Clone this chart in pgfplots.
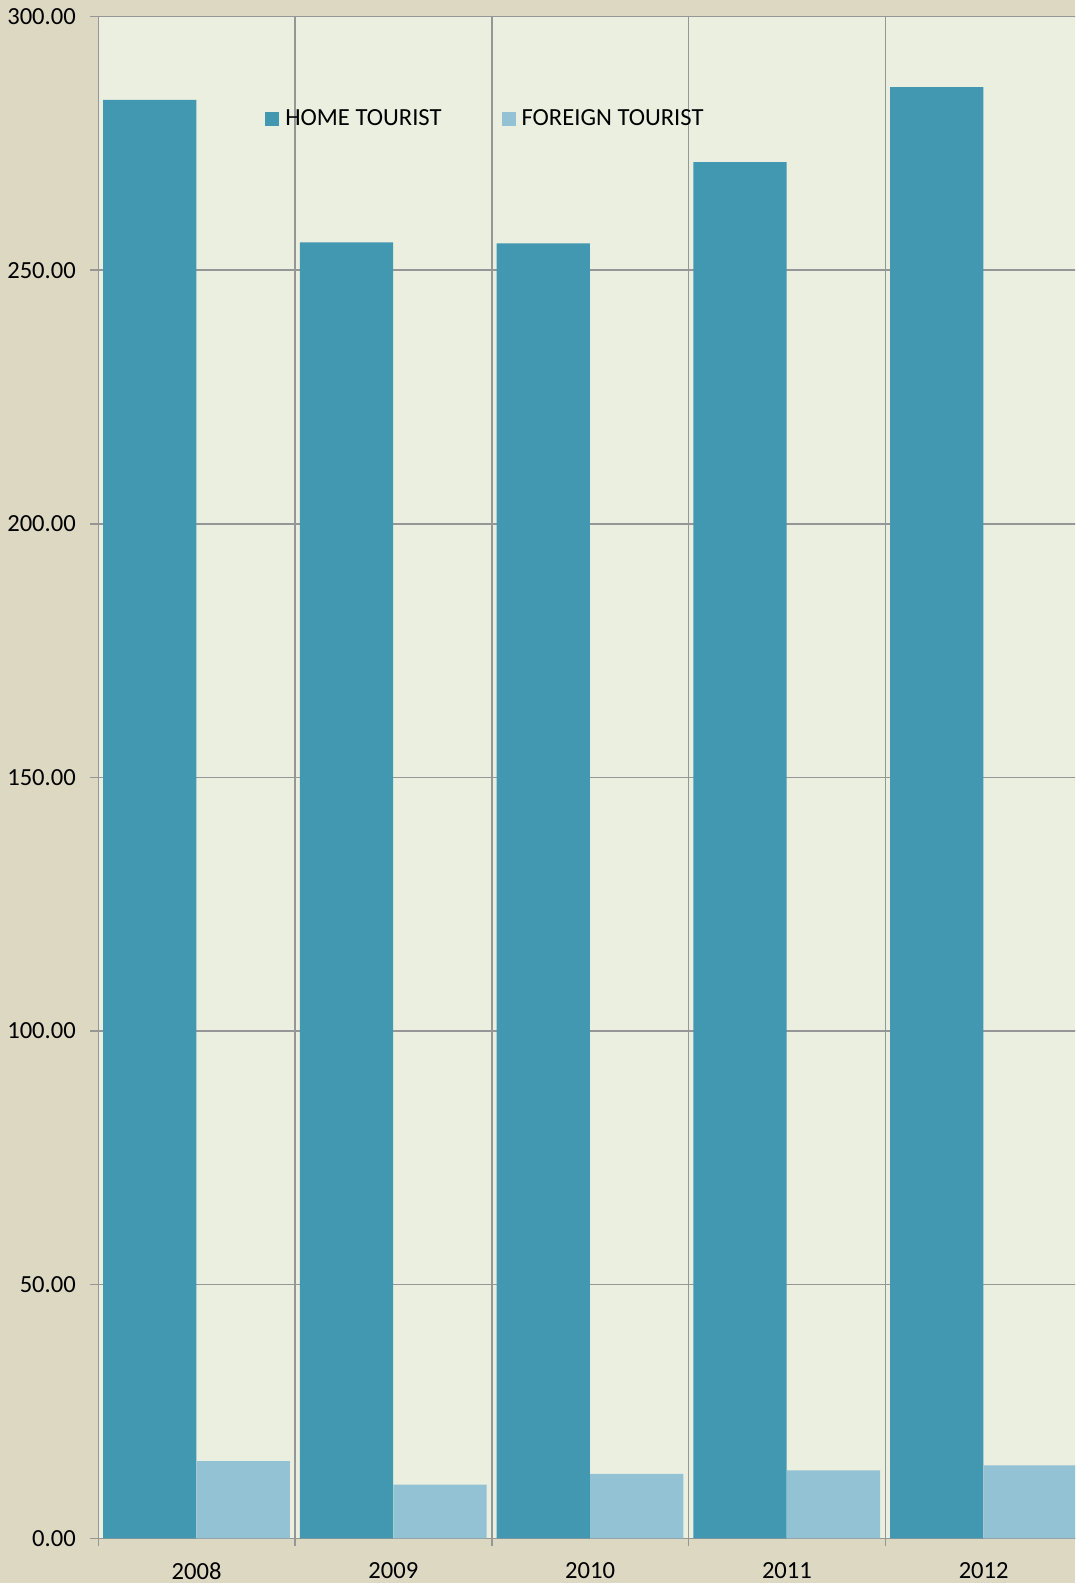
\documentclass[border=0pt]{standalone}
\usepackage{pgfplots}
\pgfplotsset{compat=1.18}
\usepackage{fontspec}
\setmainfont{Carlito}
\definecolor{pagebg}{RGB}{221,216,194}
\definecolor{plotbg}{RGB}{235,239,223}
\definecolor{homec}{RGB}{67,152,177}
\definecolor{forc}{RGB}{146,194,212}
\definecolor{gridc}{RGB}{150,150,150}
\begin{document}
\begin{tikzpicture}
\path[use as bounding box, fill=pagebg] (0pt,0pt) rectangle (537.5pt,791.5pt);
\clip (0pt,0pt) rectangle (537.5pt,791.5pt);
\begin{axis}[
  at={(49.15pt,22.35pt)}, anchor=south west,
  scale only axis, width=491.875pt, height=760.8pt,
  xmin=-0.5, xmax=4.5, ymin=0, ymax=300,
  axis background/.style={fill=plotbg},
  axis x line*=bottom, axis y line*=left,
  axis line style={gridc, line width=0.8pt},
  tick style={gridc, line width=0.8pt},
  grid style={gridc, line width=0.8pt},
  tick align=outside, major tick length=4pt,
  xtick={-0.5,0.5,...,4.5}, xticklabels={},
  xmajorgrids, ymajorgrids,
  extra x ticks={0,1,2,3,4},
  extra x tick labels={2008,2009,2010,2011,2012},
  extra x tick style={major tick length=0pt, grid=none, x tick label style={yshift=-8.5pt}},
  ytick={0,50,...,300},
  yticklabel style={/pgf/number format/fixed, /pgf/number format/zerofill, /pgf/number format/precision=2, /pgf/number format/assume math mode=true, xshift=-3.7pt},
  every tick label/.append style={font=\fontsize{12.3}{14}\selectfont, text=black},
  ybar, bar width=0.474,
  legend style={at={(0.1694,0.933)}, anchor=west, draw=none, fill=none,
    inner sep=0pt, legend columns=2, font=\fontsize{12.3}{14}\selectfont,
    /tikz/every odd column/.append style={column sep=1pt},
    /tikz/every even column/.append style={column sep=28pt}},
  legend image code/.code={\fill[#1] (0pt,-3.5pt) rectangle (7pt,3.5pt);},
]
\addplot[fill=homec, draw=none, bar shift=-0.238] coordinates {(0,283.6) (1,255.5) (2,255.3) (3,271.3) (4,286.1)};
\addlegendentry{HOME TOURIST}
\addplot[fill=forc, draw=none, bar shift=0.237] coordinates {(0,15.2) (1,10.6) (2,12.7) (3,13.4) (4,14.4)};
\addlegendentry{FOREIGN TOURIST}
\end{axis}
\end{tikzpicture}
\end{document}
